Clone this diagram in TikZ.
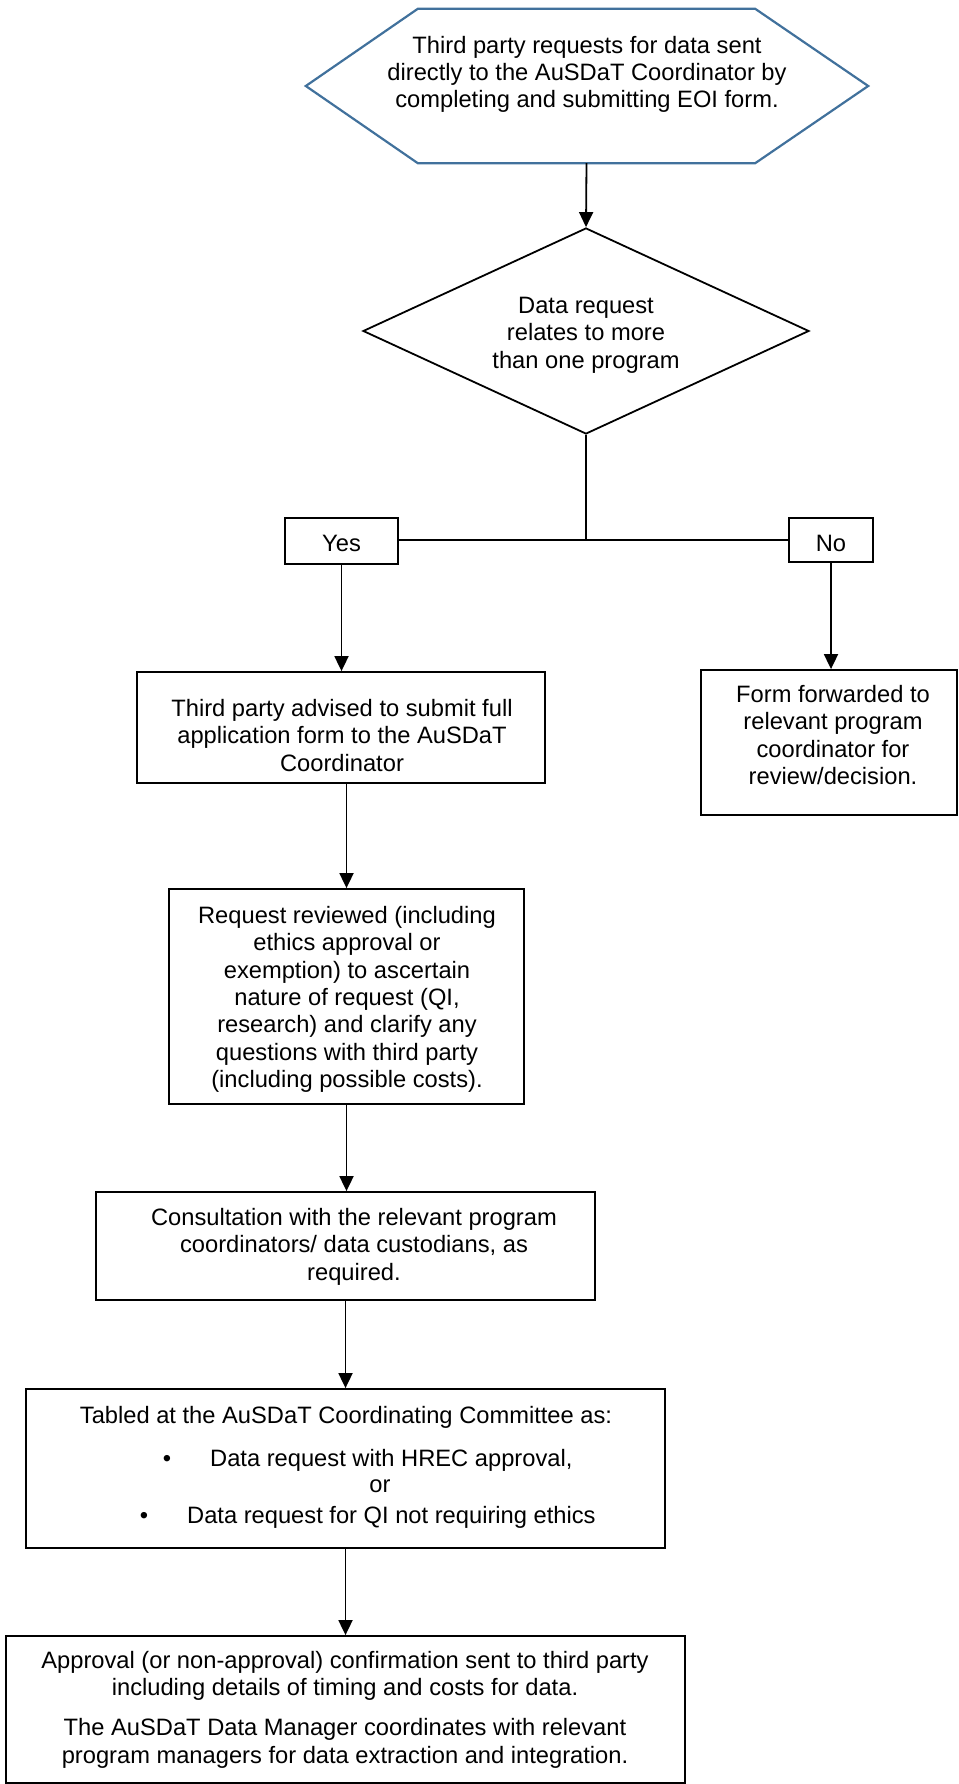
\documentclass[tikz,border=0pt]{standalone}
\usepackage{fontspec}
\setmainfont{Liberation Sans}
\usetikzlibrary{arrows.meta,shapes.geometric,calc}
\definecolor{hexblue}{RGB}{65,113,156}
\newcommand{\fl}{\rule{0pt}{19pt}}
\begin{document}
\begin{tikzpicture}[x=1pt,y=-1pt,
  box/.style={draw, line width=1.8pt, rectangle, inner sep=0pt},
  txt/.style={font=\fontsize{23.7pt}{27.4pt}\selectfont, align=center, inner sep=0pt, anchor=north},
  lbl/.style={font=\fontsize{23.7pt}{27.4pt}\selectfont, inner sep=0pt, anchor=base},
  conn/.style={line width=1.8pt, -{Triangle[width=14pt,length=15pt]}},
  plain/.style={line width=1.8pt},
  hexline/.style={draw=hexblue, line width=2.2pt, line join=miter}
]
\useasboundingbox (0,0) rectangle (958,1784);

% hexagon (start)
\node[minimum width=337pt, minimum height=154pt, inner sep=0pt] (hexb) at (586.5,86) {};
\draw[hexline] (hexb.north west) -- (hexb.north east) -- ($(hexb.east)+(113,0)$)
  -- (hexb.south east) -- (hexb.south west) -- ($(hexb.west)+(-112,0)$) -- cycle;
\node[txt] (hext) at (587,34) {\fl Third party requests for data sent\\
  directly to the AuSDaT Coordinator by\\ completing and submitting EOI form.};

% decision
\node[draw, diamond, line width=1.8pt, minimum width=446pt, minimum height=206pt, inner sep=0pt] (dia) at (586,331) {};
\node[txt] (diat) at (586,294) {\fl Data request\\ relates to more\\ than one program};

% yes / no
\node[box, minimum width=113pt, minimum height=46pt] (yes) at (341.5,541) {};
\node[lbl] (yest) at (341.5,551) {Yes};
\node[box, minimum width=84pt, minimum height=44pt] (no) at (831,540) {};
\node[lbl] (not) at (831,551) {No};

% boxes
\node[box, minimum width=408pt, minimum height=111pt] (adv) at (341,727.5) {};
\node[txt] (advt) at (342,697) {\fl Third party advised to submit full\\ application form to the AuSDaT\\ Coordinator};

\node[box, minimum width=256pt, minimum height=145pt] (fwd) at (829,742.5) {};
\node[txt] (fwdt) at (833,683) {\fl Form forwarded to\\ relevant program\\ coordinator for\\ review/decision.};

\node[box, minimum width=355pt, minimum height=215pt] (rev) at (346.5,996.5) {};
\node[txt] (revt) at (347,904) {\fl Request reviewed (including\\ ethics approval or\\ exemption) to ascertain\\ nature of request (QI,\\ research) and clarify any\\ questions with third party\\ (including possible costs).};

\node[box, minimum width=499pt, minimum height=108pt] (con) at (345.5,1246) {};
\node[txt] (cont) at (354,1206) {\fl Consultation with the relevant program\\ coordinators/ data custodians, as\\ required.};

\node[box, minimum width=639pt, minimum height=159pt] (tab) at (345.5,1468.5) {};
\node[lbl] (tabt) at (346,1423) {Tabled at the AuSDaT Coordinating Committee as:};
\node[lbl] (bul1) at (167,1466) {•};
\node[lbl, anchor=base west] (tab1) at (210,1466) {Data request with HREC approval,};
\node[lbl] (tabor) at (380,1492) {or};
\node[lbl] (bul2) at (144,1523) {•};
\node[lbl, anchor=base west] (tab2) at (187,1523) {Data request for QI not requiring ethics};

\node[box, minimum width=679pt, minimum height=147pt] (app) at (345.5,1709.5) {};
\node[txt] (appt) at (345,1649) {\fl Approval (or non-approval) confirmation sent to third party\\ including details of timing and costs for data.\\[12.6pt]
  The AuSDaT Data Manager coordinates with relevant\\ program managers for data extraction and integration.};

% connectors
\draw[conn] (hexb.south) -- (dia.north);
\draw[plain] (dia.south) -- (dia.south |- no.west);
\draw[plain] (yes.east |- no.west) -- (no.west);
\draw[conn] (yes.south) -- (yes.south |- adv.north);
\draw[conn] (no.south) -- (no.south |- fwd.north);
\draw[conn] (rev.north |- adv.south) -- (rev.north);
\draw[conn] (rev.south) -- (rev.south |- con.north);
\draw[conn] (con.south) -- (con.south |- tab.north);
\draw[conn] (tab.south) -- (tab.south |- app.north);
\end{tikzpicture}
\end{document}
